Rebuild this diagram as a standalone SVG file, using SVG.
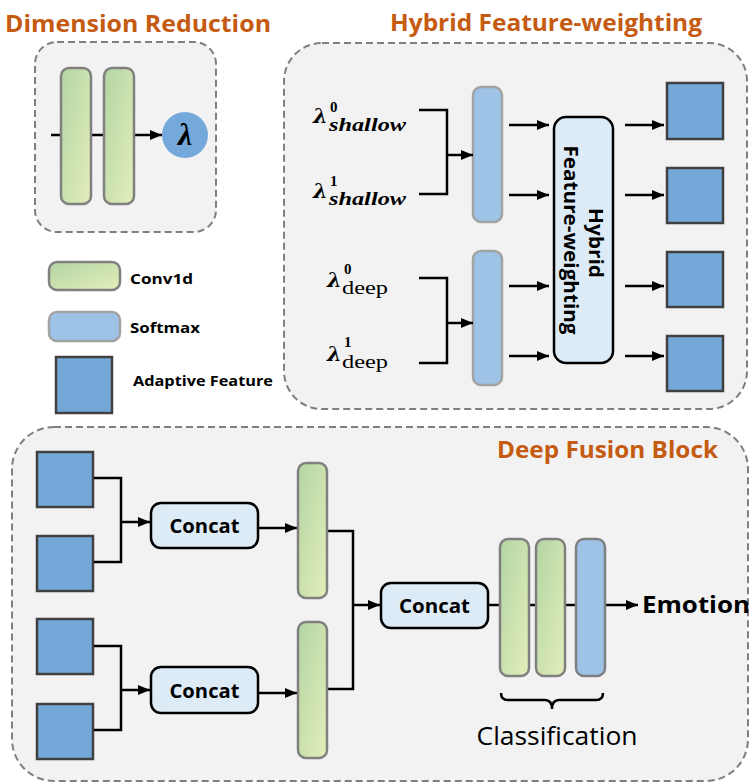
<svg xmlns="http://www.w3.org/2000/svg" width="750" height="783" viewBox="0 0 750 783">
  <defs>
    <linearGradient id="convGrad" x1="0" y1="0" x2="1" y2="1">
      <stop offset="0" stop-color="#B3D5A3"/>
      <stop offset="1" stop-color="#E3EEBA"/>
    </linearGradient>
    <marker id="arrow" viewBox="0 0 12 10" refX="12" refY="5" markerWidth="4.8" markerHeight="4" markerUnits="strokeWidth" orient="auto">
      <path d="M0,0 L12,5 L0,10 Z" fill="#000"/>
    </marker>
  </defs>
  <style>
    .panel { fill: #F2F2F2; stroke: #7F7F7F; stroke-width: 2; stroke-dasharray: 7 4; }
    .title { font-family: "Open Sans", "Liberation Sans", sans-serif; font-weight: bold; font-size: 24px; fill: #C55A11; }
    .conv { fill: url(#convGrad); stroke: #808080; stroke-width: 2.5; }
    .soft { fill: #9DC3E6; stroke: #A3A3A3; stroke-width: 2.5; }
    .softc { fill: #9DC3E6; stroke: #808080; stroke-width: 2.5; }
    .feat { fill: #74A8D9; stroke: #404040; stroke-width: 2.5; }
    .box { fill: #DDEBF7; stroke: #000; stroke-width: 2.5; }
    .wire { fill: none; stroke: #000; stroke-width: 2.5; }
    .arr { fill: none; stroke: #000; stroke-width: 2.5; marker-end: url(#arrow); }
    .lbl { font-family: "Open Sans", "Liberation Sans", sans-serif; font-weight: bold; fill: #000; }
    .math { font-family: "Liberation Serif", "DejaVu Serif", serif; fill: #000; }
    .lam { font-family: "DejaVu Serif", "Liberation Serif", serif; font-size: 21px; font-weight: bold; font-style: italic; }
    .sup { font-size: 15px; font-weight: bold; }
    .sub { font-size: 18px; font-weight: bold; font-style: italic; }
  </style>

  <!-- Dimension Reduction panel -->
  <g id="dimension-reduction">
    <text class="title" x="5" y="32" textLength="266" lengthAdjust="spacingAndGlyphs">Dimension Reduction</text>
    <rect class="panel" x="35" y="42" width="181" height="190" rx="22"/>
    <line class="arr" x1="51" y1="135" x2="162" y2="135"/>
    <rect class="conv" x="61" y="68" width="30" height="136" rx="8"/>
    <rect class="conv" x="104" y="68" width="30" height="136" rx="8"/>
    <circle cx="185" cy="135" r="23" fill="#76A9DB"/>
    <text class="math" x="185" y="145" font-size="32" font-weight="bold" font-style="italic" text-anchor="middle">λ</text>
  </g>

  <!-- Legend -->
  <g id="legend">
    <rect class="conv" x="49" y="262" width="71" height="28" rx="8"/>
    <text class="lbl" x="130" y="284" font-size="15" textLength="63" lengthAdjust="spacingAndGlyphs">Conv1d</text>
    <rect class="soft" x="49" y="312" width="71" height="29" rx="8"/>
    <text class="lbl" x="130" y="333" font-size="15" textLength="70" lengthAdjust="spacingAndGlyphs">Softmax</text>
    <rect class="feat" x="56" y="357" width="56" height="56"/>
    <text class="lbl" x="133" y="386" font-size="15" textLength="140" lengthAdjust="spacingAndGlyphs">Adaptive Feature</text>
  </g>

  <!-- Hybrid Feature-weighting panel -->
  <g id="hybrid-panel">
    <text class="title" x="390" y="31" textLength="312" lengthAdjust="spacingAndGlyphs">Hybrid Feature-weighting</text>
    <rect class="panel" x="284" y="43" width="463" height="366" rx="38"/>
  </g>

  <g id="lambda-labels">
    <text class="math lam" x="313" y="123">λ</text>
    <text class="math sup" x="330" y="112">0</text>
    <text class="math sub" x="329" y="131" textLength="77" lengthAdjust="spacingAndGlyphs">shallow</text>

    <text class="math lam" x="313" y="198">λ</text>
    <text class="math sup" x="330" y="186">1</text>
    <text class="math sub" x="329" y="205" textLength="77" lengthAdjust="spacingAndGlyphs">shallow</text>

    <text class="math lam" x="327" y="287">λ</text>
    <text class="math sup" x="344" y="274">0</text>
    <text class="math" x="342" y="294" font-size="19" textLength="46" lengthAdjust="spacingAndGlyphs">deep</text>

    <text class="math lam" x="327" y="361">λ</text>
    <text class="math sup" x="344" y="347">1</text>
    <text class="math" x="342" y="368" font-size="19" textLength="46" lengthAdjust="spacingAndGlyphs">deep</text>
  </g>

  <g id="softmax-shallow">
    <rect class="soft" x="473" y="87" width="29" height="135" rx="8"/>
  </g>
  <g id="softmax-deep">
    <rect class="soft" x="473" y="251" width="29" height="134" rx="8"/>
  </g>

  <g id="hybrid-weighting">
    <rect class="box" x="554" y="117" width="59" height="246" rx="12"/>
    <text class="lbl" font-size="20" text-anchor="middle" transform="translate(589,243) rotate(90)" textLength="70" lengthAdjust="spacingAndGlyphs">Hybrid</text>
    <text class="lbl" font-size="20" text-anchor="middle" transform="translate(564,240) rotate(90)" textLength="189" lengthAdjust="spacingAndGlyphs">Feature-weighting</text>
  </g>

  <g id="adaptive-features">
    <rect class="feat" x="667" y="83" width="56" height="56"/>
    <rect class="feat" x="667" y="168" width="56" height="55"/>
    <rect class="feat" x="667" y="252" width="56" height="55"/>
    <rect class="feat" x="667" y="336" width="56" height="55"/>
  </g>

  <!-- Deep Fusion Block panel -->
  <g id="deep-fusion-panel">
    <rect class="panel" x="12" y="427" width="736" height="354" rx="42"/>
    <text class="title" x="497" y="458" textLength="221" lengthAdjust="spacingAndGlyphs">Deep Fusion Block</text>
  </g>

  <g id="fusion-features">
    <rect class="feat" x="37" y="452" width="56" height="55"/>
    <rect class="feat" x="37" y="536" width="56" height="55"/>
    <rect class="feat" x="37" y="619" width="56" height="55"/>
    <rect class="feat" x="37" y="704" width="56" height="55"/>
  </g>

  <g id="concat-top">
    <rect class="box" x="151" y="503" width="107" height="45" rx="10"/>
    <text class="lbl" x="204.5" y="533" font-size="20" text-anchor="middle" textLength="70" lengthAdjust="spacingAndGlyphs">Concat</text>
  </g>
  <g id="concat-bottom">
    <rect class="box" x="151" y="667" width="107" height="46" rx="10"/>
    <text class="lbl" x="204.5" y="698" font-size="20" text-anchor="middle" textLength="70" lengthAdjust="spacingAndGlyphs">Concat</text>
  </g>

  <!-- connectors -->
  <g id="connectors">
    <!-- Dimension-reduction outputs into softmax -->
    <path class="wire" d="M419,110 H447 V194 H419"/>
    <line class="arr" x1="446" y1="155" x2="473" y2="155"/>
    <path class="wire" d="M419,278 H447 V363 H419"/>
    <line class="arr" x1="446" y1="323" x2="473" y2="323"/>
    <!-- softmax into hybrid weighting -->
    <line class="arr" x1="509" y1="125" x2="549" y2="125"/>
    <line class="arr" x1="509" y1="195" x2="549" y2="195"/>
    <line class="arr" x1="509" y1="286" x2="549" y2="286"/>
    <line class="arr" x1="509" y1="356" x2="549" y2="356"/>
    <!-- hybrid weighting to adaptive features -->
    <line class="arr" x1="625" y1="125" x2="664" y2="125"/>
    <line class="arr" x1="625" y1="195" x2="664" y2="195"/>
    <line class="arr" x1="625" y1="286" x2="664" y2="286"/>
    <line class="arr" x1="625" y1="356" x2="664" y2="356"/>
    <!-- feature pairs into concat -->
    <path class="wire" d="M94,478 H121 V562 H94"/>
    <line class="arr" x1="120" y1="522" x2="150" y2="522"/>
    <path class="wire" d="M94,646 H121 V730 H94"/>
    <line class="arr" x1="120" y1="690" x2="150" y2="690"/>
    <!-- concat into conv -->
    <line class="arr" x1="258" y1="528" x2="297" y2="528"/>
    <line class="arr" x1="258" y1="693" x2="297" y2="693"/>
    <!-- conv outputs into final concat -->
    <path class="wire" d="M327,531 H353 V689 H327"/>
    <line class="arr" x1="352" y1="605" x2="380" y2="605"/>
    <!-- classifier chain -->
    <line class="wire" x1="488" y1="605" x2="500" y2="605"/>
    <line class="wire" x1="529" y1="605" x2="536" y2="605"/>
    <line class="wire" x1="565" y1="605" x2="576" y2="605"/>
    <line class="arr" x1="605" y1="605" x2="638" y2="605"/>
  </g>

  <g id="conv-top">
    <rect class="conv" x="298" y="463" width="29" height="135" rx="8"/>
  </g>
  <g id="conv-bottom">
    <rect class="conv" x="298" y="622" width="29" height="136" rx="8"/>
  </g>

  <g id="concat-final">
    <rect class="box" x="381" y="583" width="107" height="45" rx="10"/>
    <text class="lbl" x="434.5" y="613" font-size="20" text-anchor="middle" textLength="71" lengthAdjust="spacingAndGlyphs">Concat</text>
  </g>

  <g id="classification">
    <rect class="conv" x="500" y="539" width="29" height="137" rx="8"/>
    <rect class="conv" x="536" y="539" width="29" height="137" rx="8"/>
    <rect class="softc" x="576" y="539" width="29" height="137" rx="8"/>
    <path class="wire" d="M501,693 Q501,700 508,700 H545 Q552,700 552,709 Q552,700 559,700 H596 Q603,700 603,693"/>
    <text x="557" y="745" font-family="Open Sans, Liberation Sans, sans-serif" font-size="25" text-anchor="middle" textLength="161" lengthAdjust="spacingAndGlyphs">Classification</text>
  </g>

  <g id="emotion">
    <text class="lbl" x="642" y="613" font-size="24" textLength="108" lengthAdjust="spacingAndGlyphs">Emotion</text>
  </g>
</svg>
